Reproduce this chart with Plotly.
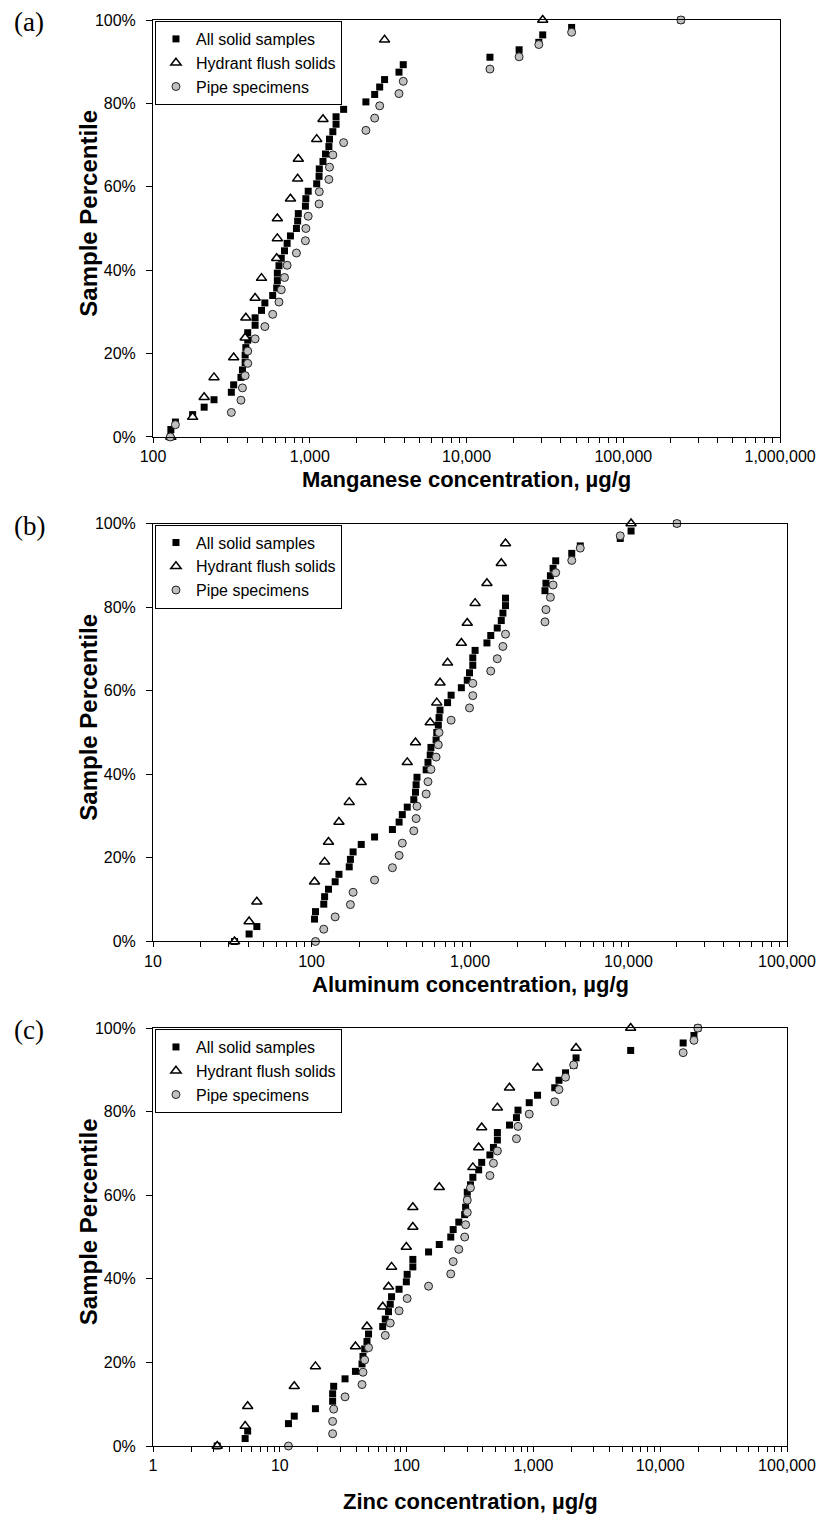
import plotly.graph_objects as go

# Concentrations in µg/g for each sample set
mn_hydrant = [130, 179, 212, 245, 327, 387, 391, 448, 492, 615, 621, 621, 753, 837, 845,
              1107, 1214, 1260, 1471, 1471, 3000, 30600]
mn_pipe = [129, 139, 316, 364, 372, 387, 402, 402, 448, 517, 580, 636, 658, 690, 717, 822,
           938, 944, 977, 1146, 1150, 1324, 1336, 1403, 1644, 2280, 2594, 2792, 3707, 3947,
           14100, 21640, 28900, 46800, 232800]

al_hydrant = [32.7, 40.4, 45.2, 104.5, 121, 128, 149, 173, 206, 402, 453, 561, 617, 647, 722,
              882, 961, 1077, 1279, 1575, 1675, 10380]
al_pipe = [106, 119.5, 141, 176, 183, 250, 324, 357, 374, 442, 457, 463, 529, 543, 567, 611,
           631, 638, 760, 993, 1041, 1041, 1352, 1486, 1613, 1675, 2972, 3014, 3217, 3342,
           3473, 4385, 4963, 8870, 20200]

zn_hydrant = [3.21, 5.33, 5.58, 13.0, 19.1, 39.5, 48.7, 64.8, 72, 76.1, 99.5, 112, 112, 181,
              333, 370, 391, 520, 648, 1078, 2170, 5850]
zn_pipe = [11.7, 26.1, 26.1, 26.6, 32.7, 44.5, 45.3, 46.7, 50.1, 67.9, 74.3, 87.2, 101, 149,
           223, 233, 258, 287, 292, 301, 301, 319, 454, 484, 520, 735, 756, 927, 1473, 1591,
           1793, 2078, 15170, 18460, 19810]

series_names = ["All solid samples", "Hydrant flush solids", "Pipe specimens"]
panel_tags = ["(a)", "(b)", "(c)"]
x_titles = ["Manganese concentration, µg/g", "Aluminum concentration, µg/g",
            "Zinc concentration, µg/g"]
y_title = "Sample Percentile"

y_tickvals = [0, 0.2, 0.4, 0.6, 0.8, 1.0]
y_ticktext = ["0%", "20%", "40%", "60%", "80%", "100%"]

x_tickvals = [
    [100, 1000, 10000, 100000, 1000000],
    [10, 100, 1000, 10000, 100000],
    [1, 10, 100, 1000, 10000, 100000],
]
x_ticktext = [
    ["100", "1,000", "10,000", "100,000", "1,000,000"],
    ["10", "100", "1,000", "10,000", "100,000"],
    ["1", "10", "100", "1,000", "10,000", "100,000"],
]
x_decades = [(2, 6), (1, 5), (0, 5)]

panels = [(mn_hydrant, mn_pipe), (al_hydrant, al_pipe), (zn_hydrant, zn_pipe)]


def ranked(values):
    """Sorted values with their sample percentile rank (0 to 1)."""
    xs = sorted(values)
    n = len(xs)
    return xs, [i / (n - 1) for i in range(n)]


# ---- page geometry (pixels) ----
W, H = 835, 1523
L, R, T, B = 153, 37, 13, 77
PW, PH = W - L - R, H - T - B
# plot boxes: (left, right, top, bottom) in page pixels
boxes = [(153, 791, 13, 432), (153, 798, 519, 939), (153, 798, 1026, 1446)]
title_gap = [43, 43, 56]


def px_x(px):
    return (px - L) / PW


def px_y(py):
    return (H - B - py) / PH


FONT = "Liberation Sans, Arial, sans-serif"
fig = go.Figure()

for k, (hyd, pipe) in enumerate(panels):
    sfx = "" if k == 0 else str(k + 1)
    xa, ya = "x" + sfx, "y" + sfx
    lg = "legend" + sfx
    all_x, all_y = ranked(hyd + pipe)
    h_x, h_y = ranked(hyd)
    p_x, p_y = ranked(pipe)
    fig.add_trace(go.Scatter(
        x=all_x, y=all_y, mode="markers", name=series_names[0], xaxis=xa, yaxis=ya,
        legend=lg, cliponaxis=False,
        marker=dict(symbol="square", size=7, color="black", line=dict(width=0))))
    fig.add_trace(go.Scatter(
        x=h_x, y=h_y, mode="markers", name=series_names[1], xaxis=xa, yaxis=ya,
        legend=lg, cliponaxis=False,
        marker=dict(symbol="triangle-up", size=9, color="white",
                    line=dict(width=1.5, color="black"))))
    fig.add_trace(go.Scatter(
        x=p_x, y=p_y, mode="markers", name=series_names[2], xaxis=xa, yaxis=ya,
        legend=lg, cliponaxis=False,
        marker=dict(symbol="circle", size=8, color="#c0c0c0",
                    line=dict(width=1, color="#222222"))))

layout = dict(
    width=W, height=H,
    margin=dict(l=L, r=R, t=T, b=B),
    paper_bgcolor="white", plot_bgcolor="white",
    font=dict(family=FONT, size=16, color="black"),
    showlegend=True,
    annotations=[],
)

for k in range(3):
    sfx = "" if k == 0 else str(k + 1)
    left, right, top, bottom = boxes[k]
    lo, hi = x_decades[k]
    xdom = [px_x(left), px_x(right)]
    ydom = [px_y(bottom), px_y(top)]
    minor_vals = [m * 10 ** d for d in range(lo, hi) for m in range(2, 10)]

    layout["xaxis" + sfx] = dict(
        type="log", range=[lo, hi], domain=xdom, anchor="y" + sfx,
        tickmode="array", tickvals=x_tickvals[k], ticktext=x_ticktext[k],
        ticks="outside", ticklen=5, tickwidth=1, tickcolor="black",
        minor=dict(tickmode="array", tickvals=minor_vals, ticks="outside",
                   ticklen=5, tickwidth=1, tickcolor="black"),
        showline=True, linecolor="black", linewidth=1, mirror=True,
        showgrid=False, zeroline=False, ticklabelstandoff=0,
        tickfont=dict(size=16, family=FONT),
    )
    # companion axis that draws the inner half of the crossing ticks
    layout["xaxis" + str(k + 4)] = dict(
        type="log", range=[lo, hi], overlaying="x" + sfx, anchor="y" + sfx,
        tickmode="array", tickvals=x_tickvals[k], showticklabels=False,
        ticks="inside", ticklen=5, tickwidth=1, tickcolor="black",
        minor=dict(tickmode="array", tickvals=minor_vals, ticks="inside",
                   ticklen=5, tickwidth=1, tickcolor="black"),
        showline=False, showgrid=False, zeroline=False,
    )
    layout["yaxis" + sfx] = dict(
        range=[0, 1], domain=ydom, anchor="x" + sfx,
        tickmode="array", tickvals=y_tickvals, ticktext=y_ticktext,
        ticks="outside", ticklen=6, tickwidth=1, tickcolor="black",
        showline=True, linecolor="black", linewidth=1, mirror=True,
        showgrid=False, zeroline=False, ticklabelstandoff=7,
        tickfont=dict(size=16, family=FONT),
    )
    layout["legend" + sfx] = dict(
        x=px_x(left + 2), xanchor="left", y=px_y(top + 1), yanchor="top",
        xref="paper", yref="paper",
        bgcolor="white", bordercolor="black", borderwidth=1,
        font=dict(size=16, family=FONT), itemwidth=30, tracegroupgap=0,
    )

    # panel tag
    layout["annotations"].append(dict(
        text=panel_tags[k], x=px_x(27), y=px_y(top + 2), xref="paper", yref="paper",
        xanchor="center", yanchor="middle", showarrow=False,
        font=dict(family="Liberation Serif, Times New Roman, serif", size=27)))
    # x-axis title
    layout["annotations"].append(dict(
        text="<b>" + x_titles[k] + "</b>", x=px_x((left + right) / 2),
        y=px_y(bottom + title_gap[k]), xref="paper", yref="paper",
        xanchor="center", yanchor="middle", showarrow=False,
        font=dict(family=FONT, size=22)))
    # y-axis title
    layout["annotations"].append(dict(
        text="<b>" + y_title + "</b>", x=px_x(87), y=px_y((top + bottom) / 2 - 15),
        xref="paper", yref="paper", textangle=-90,
        xanchor="center", yanchor="middle", showarrow=False,
        font=dict(family=FONT, size=24)))

fig.update_layout(**layout)
fig.write_html("out.html")
